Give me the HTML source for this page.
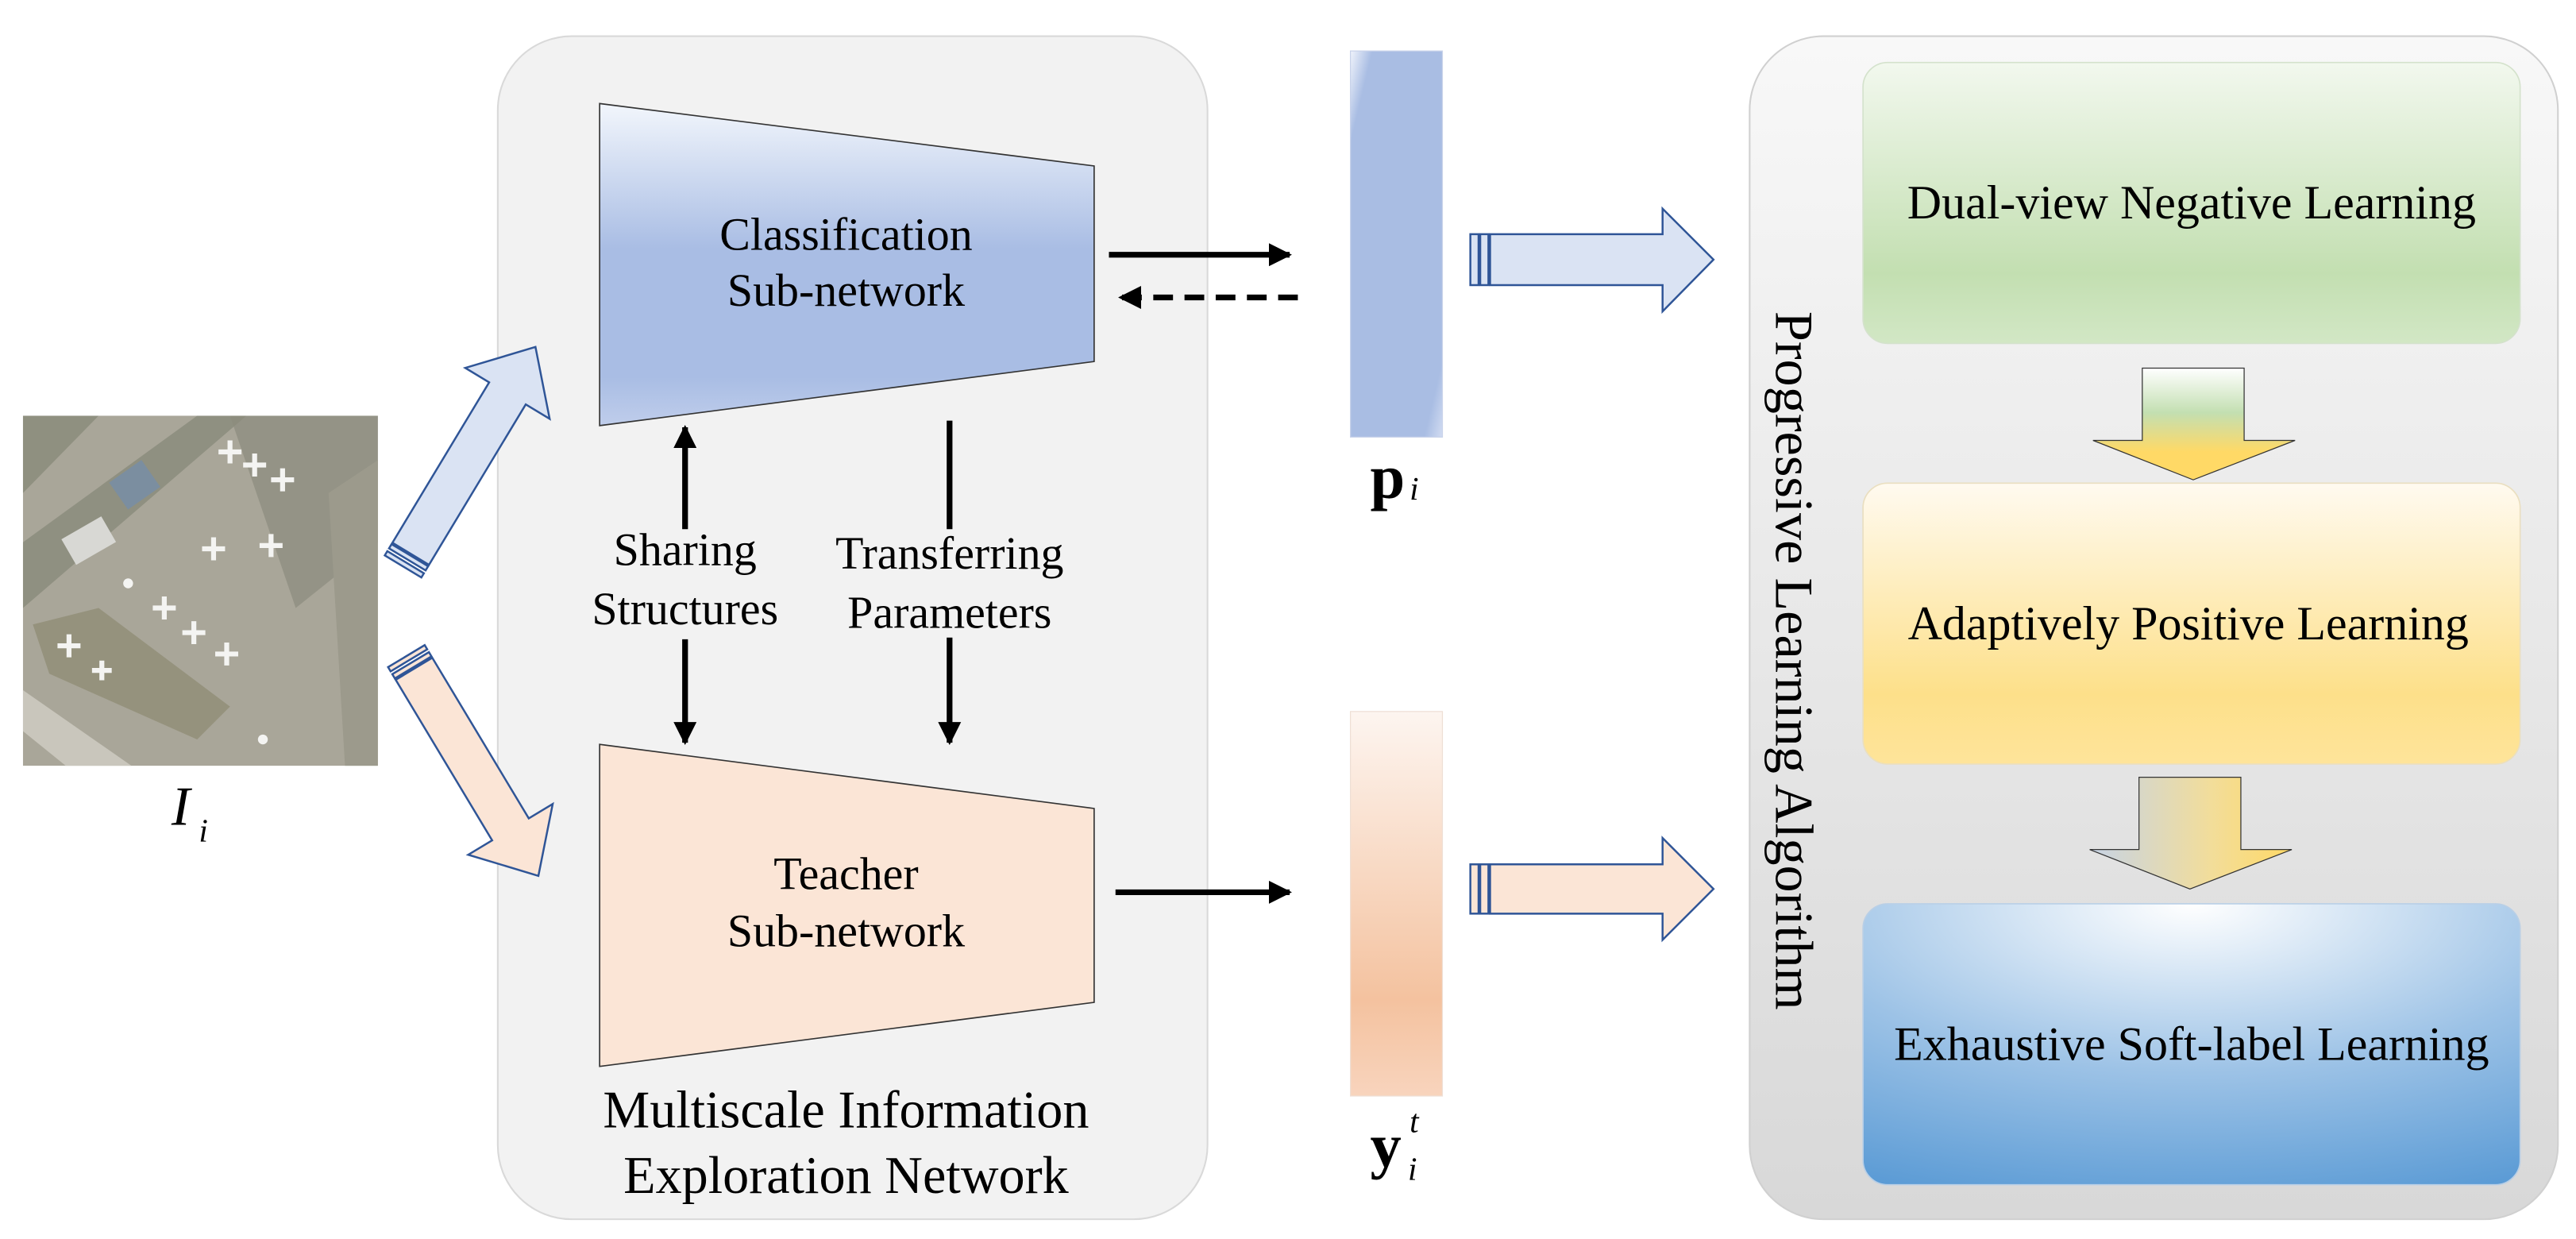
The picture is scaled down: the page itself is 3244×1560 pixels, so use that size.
<!DOCTYPE html>
<html><head><meta charset="utf-8"><style>html,body{margin:0;padding:0;background:#fff}svg{display:block}
svg, svg text{font-family:'Liberation Serif','Times New Roman',serif;}
</style></head><body>
<svg width="3244" height="1560" viewBox="0 0 1568 754" xmlns="http://www.w3.org/2000/svg">
<defs>
<linearGradient id="gBlue" x1="0" y1="0" x2="0" y2="1"><stop offset="0" stop-color="#f2f6fc"/><stop offset="0.45" stop-color="#a9bde4"/><stop offset="0.85" stop-color="#a9bde4"/><stop offset="1" stop-color="#bfcdeb"/></linearGradient>
<linearGradient id="gP" x1="0" y1="0" x2="1" y2="1"><stop offset="0" stop-color="#f0f3fb"/><stop offset="0.12" stop-color="#a9bde3"/><stop offset="0.9" stop-color="#a9bde3"/><stop offset="1" stop-color="#d2dcf2"/></linearGradient>
<linearGradient id="gY" x1="0" y1="0" x2="0" y2="1"><stop offset="0" stop-color="#fdf5f0"/><stop offset="0.75" stop-color="#f4c29f"/><stop offset="1" stop-color="#f8d4bd"/></linearGradient>
<linearGradient id="gPanel2" x1="0" y1="0" x2="0" y2="1"><stop offset="0" stop-color="#f8f8f8"/><stop offset="1" stop-color="#d8d8d8"/></linearGradient>
<linearGradient id="gGreen" x1="0" y1="0" x2="0" y2="1"><stop offset="0" stop-color="#f2f8ee"/><stop offset="0.75" stop-color="#c3dfb1"/><stop offset="1" stop-color="#d2e7c5"/></linearGradient>
<linearGradient id="gYel" x1="0" y1="0" x2="0" y2="1"><stop offset="0" stop-color="#fffaf0"/><stop offset="0.75" stop-color="#fde08a"/><stop offset="1" stop-color="#fee49a"/></linearGradient>
<radialGradient id="gB3" cx="0.5" cy="0" r="1.1" fx="0.5" fy="0"><stop offset="0" stop-color="#ffffff"/><stop offset="0.55" stop-color="#9cc2e6"/><stop offset="1" stop-color="#5b9bd5"/></radialGradient>
<linearGradient id="gA1" x1="0" y1="0" x2="0" y2="1"><stop offset="0" stop-color="#ffffff"/><stop offset="0.4" stop-color="#c3dfb1"/><stop offset="0.75" stop-color="#ffd966"/><stop offset="1" stop-color="#ffd966"/></linearGradient>
<linearGradient id="gA2" x1="0" y1="0" x2="1" y2="0"><stop offset="0" stop-color="#c6d3e6"/><stop offset="0.6" stop-color="#f2dd9a"/><stop offset="1" stop-color="#ffd966"/></linearGradient>
<marker id="ah" viewBox="0 0 10 10" refX="9" refY="5" markerWidth="4" markerHeight="4" orient="auto"><path d="M0,0 L10,5 L0,10 z" fill="#000"/></marker>
</defs>

<!-- satellite image -->
<g>
<rect x="14" y="253" width="216" height="213" fill="#a9a699"/>
<polygon points="14,253 60,253 14,300" fill="#8f9080"/>
<polygon points="14,330 120,253 150,253 14,370" fill="#7e8272" opacity="0.6"/>
<polygon points="140,253 230,253 230,330 180,370" fill="#8b8c7e" opacity="0.7"/>
<polygon points="20,380 60,370 140,430 120,450 30,410" fill="#8d8a70" opacity="0.7"/>
<polygon points="14,420 80,466 40,466 14,445" fill="#c9c6bc"/>
<polygon points="200,300 230,280 230,466 210,466" fill="#9c9a8c"/>
<rect x="70" y="285" width="24" height="20" fill="#7b8ea0" transform="rotate(-35 82 295)"/>
<rect x="40" y="320" width="28" height="18" fill="#d8d8d4" transform="rotate(-30 54 329)"/>
<g fill="#f4f4f2">
<path d="M-7,0 L7,0 M0,-7 L0,7" stroke="#f4f4f2" stroke-width="3" transform="translate(140,275)"/>
<path d="M-7,0 L7,0 M0,-7 L0,7" stroke="#f4f4f2" stroke-width="3" transform="translate(155,283)"/>
<path d="M-7,0 L7,0 M0,-7 L0,7" stroke="#f4f4f2" stroke-width="3" transform="translate(172,292)"/>
<path d="M-7,0 L7,0 M0,-7 L0,7" stroke="#f4f4f2" stroke-width="3" transform="translate(130,334)"/>
<path d="M-7,0 L7,0 M0,-7 L0,7" stroke="#f4f4f2" stroke-width="3" transform="translate(165,332)"/>
<path d="M-7,0 L7,0 M0,-7 L0,7" stroke="#f4f4f2" stroke-width="3" transform="translate(100,370)"/>
<path d="M-7,0 L7,0 M0,-7 L0,7" stroke="#f4f4f2" stroke-width="3" transform="translate(118,385)"/>
<path d="M-7,0 L7,0 M0,-7 L0,7" stroke="#f4f4f2" stroke-width="3" transform="translate(138,398)"/>
<path d="M-7,0 L7,0 M0,-7 L0,7" stroke="#f4f4f2" stroke-width="3" transform="translate(42,393)"/>
<path d="M-6,0 L6,0 M0,-6 L0,6" stroke="#f4f4f2" stroke-width="3" transform="translate(62,408)"/>
<circle cx="78" cy="355" r="3"/><circle cx="160" cy="450" r="3"/>
</g>
</g>
<text x="110" y="502" font-size="34" font-style="italic" text-anchor="middle">I</text>
<text x="121" y="512" font-size="20" font-style="italic">i</text>

<!-- panel 1 -->
<rect x="303" y="22" width="432" height="720" rx="45" fill="#f2f2f2" stroke="#d9d9d9" stroke-width="1"/>
<polygon points="365,63 666,101 666,220 365,259" fill="url(#gBlue)" stroke="#333" stroke-width="0.8"/>
<text x="515" y="152" font-size="28" text-anchor="middle">Classification</text>
<text x="515" y="186" font-size="28" text-anchor="middle">Sub-network</text>
<polygon points="365,453 666,492 666,610 365,649" fill="#fbe5d6" stroke="#333" stroke-width="0.8"/>
<text x="515" y="541" font-size="28" text-anchor="middle">Teacher</text>
<text x="515" y="576" font-size="28" text-anchor="middle">Sub-network</text>
<text x="515" y="686" font-size="32" text-anchor="middle">Multiscale Information</text>
<text x="515" y="726" font-size="32" text-anchor="middle">Exploration Network</text>

<!-- vertical arrows -->
<line x1="417" y1="322" x2="417" y2="260" stroke="#000" stroke-width="3.5" marker-end="url(#ah)"/>
<line x1="417" y1="389" x2="417" y2="452" stroke="#000" stroke-width="3.5" marker-end="url(#ah)"/>
<line x1="578" y1="256" x2="578" y2="322" stroke="#000" stroke-width="3.5"/>
<line x1="578" y1="388" x2="578" y2="452" stroke="#000" stroke-width="3.5" marker-end="url(#ah)"/>
<text x="417" y="344" font-size="28" text-anchor="middle">Sharing</text>
<text x="417" y="380" font-size="28" text-anchor="middle">Structures</text>
<text x="578" y="346" font-size="28" text-anchor="middle">Transferring</text>
<text x="578" y="382" font-size="28" text-anchor="middle">Parameters</text>

<!-- horizontal black arrows -->
<line x1="675" y1="155" x2="785" y2="155" stroke="#000" stroke-width="3.5" marker-end="url(#ah)"/>
<line x1="790" y1="181" x2="682" y2="181" stroke="#000" stroke-width="3.5" stroke-dasharray="12,7" marker-end="url(#ah)"/>
<line x1="679" y1="543" x2="785" y2="543" stroke="#000" stroke-width="3.5" marker-end="url(#ah)"/>

<!-- diagonal block arrows -->
<g transform="translate(250,337) rotate(-58.9)" stroke="#2f5597" stroke-width="1.2">
<polygon points="0,-13 114,-13 114,-30 147,0 114,30 114,13 0,13" fill="#dae3f3"/>
<rect x="-9" y="-13" width="3" height="26" fill="#dae3f3"/>
<rect x="-4" y="-13" width="3" height="26" fill="#dae3f3"/>
</g>
<g transform="translate(252,407) rotate(59)" stroke="#2f5597" stroke-width="1.2">
<polygon points="0,-13 114,-13 114,-30 147,0 114,30 114,13 0,13" fill="#fbe5d6"/>
<rect x="-9" y="-13" width="3" height="26" fill="#fbe5d6"/>
<rect x="-4" y="-13" width="3" height="26" fill="#fbe5d6"/>
</g>

<!-- bars -->
<rect x="822" y="31" width="56" height="235" fill="url(#gP)" stroke="#c9d3ea" stroke-width="0.6"/>
<text x="834" y="303" font-size="38" font-weight="bold">p</text>
<text x="858" y="304" font-size="20" font-style="italic">i</text>
<rect x="822" y="433" width="56" height="234" fill="url(#gY)" stroke="#eedfd5" stroke-width="0.6"/>
<text x="834" y="710" font-size="38" font-weight="bold">y</text>
<text x="858" y="689" font-size="20" font-style="italic">t</text>
<text x="857" y="718" font-size="20" font-style="italic">i</text>

<!-- horizontal block arrows -->
<g stroke="#2f5597" stroke-width="1.2" fill="#dae3f3">
<polygon points="907,142.5 1012,142.5 1012,127 1043,158 1012,189.5 1012,173.5 907,173.5"/>
<rect x="895" y="142.5" width="5" height="31"/><rect x="901" y="142.5" width="5" height="31"/>
</g>
<g stroke="#2f5597" stroke-width="1.2" fill="#fbe5d6">
<polygon points="907,526 1012,526 1012,510 1043,541 1012,572 1012,556 907,556"/>
<rect x="895" y="526" width="5" height="30"/><rect x="901" y="526" width="5" height="30"/>
</g>

<!-- panel 2 -->
<rect x="1065" y="22" width="492" height="720" rx="45" fill="url(#gPanel2)" stroke="#d0d0d0" stroke-width="1"/>
<text transform="translate(1081,402) rotate(90)" font-size="33" text-anchor="middle">Progressive Learning Algorithm</text>

<rect x="1134" y="38" width="400" height="171" rx="15" fill="url(#gGreen)" stroke="#d4e2cc" stroke-width="0.8"/>
<text x="1334" y="133" font-size="29" text-anchor="middle">Dual-view Negative Learning</text>
<polygon points="1304,224 1366,224 1366,268 1397,268 1335,292 1274,268 1304,268" fill="url(#gA1)" stroke="#333" stroke-width="0.6"/>
<rect x="1134" y="294" width="400" height="171" rx="15" fill="url(#gYel)" stroke="#eadfc0" stroke-width="0.8"/>
<text x="1332" y="389" font-size="29" text-anchor="middle">Adaptively Positive Learning</text>
<polygon points="1302,473 1364,473 1364,517 1395,517 1333,541 1272,517 1302,517" fill="url(#gA2)" stroke="#333" stroke-width="0.6"/>
<rect x="1134" y="550" width="400" height="171" rx="15" fill="url(#gB3)" stroke="#b9cfe6" stroke-width="0.8"/>
<text x="1334" y="645" font-size="29" text-anchor="middle">Exhaustive Soft-label Learning</text>
</svg>
</body></html>
